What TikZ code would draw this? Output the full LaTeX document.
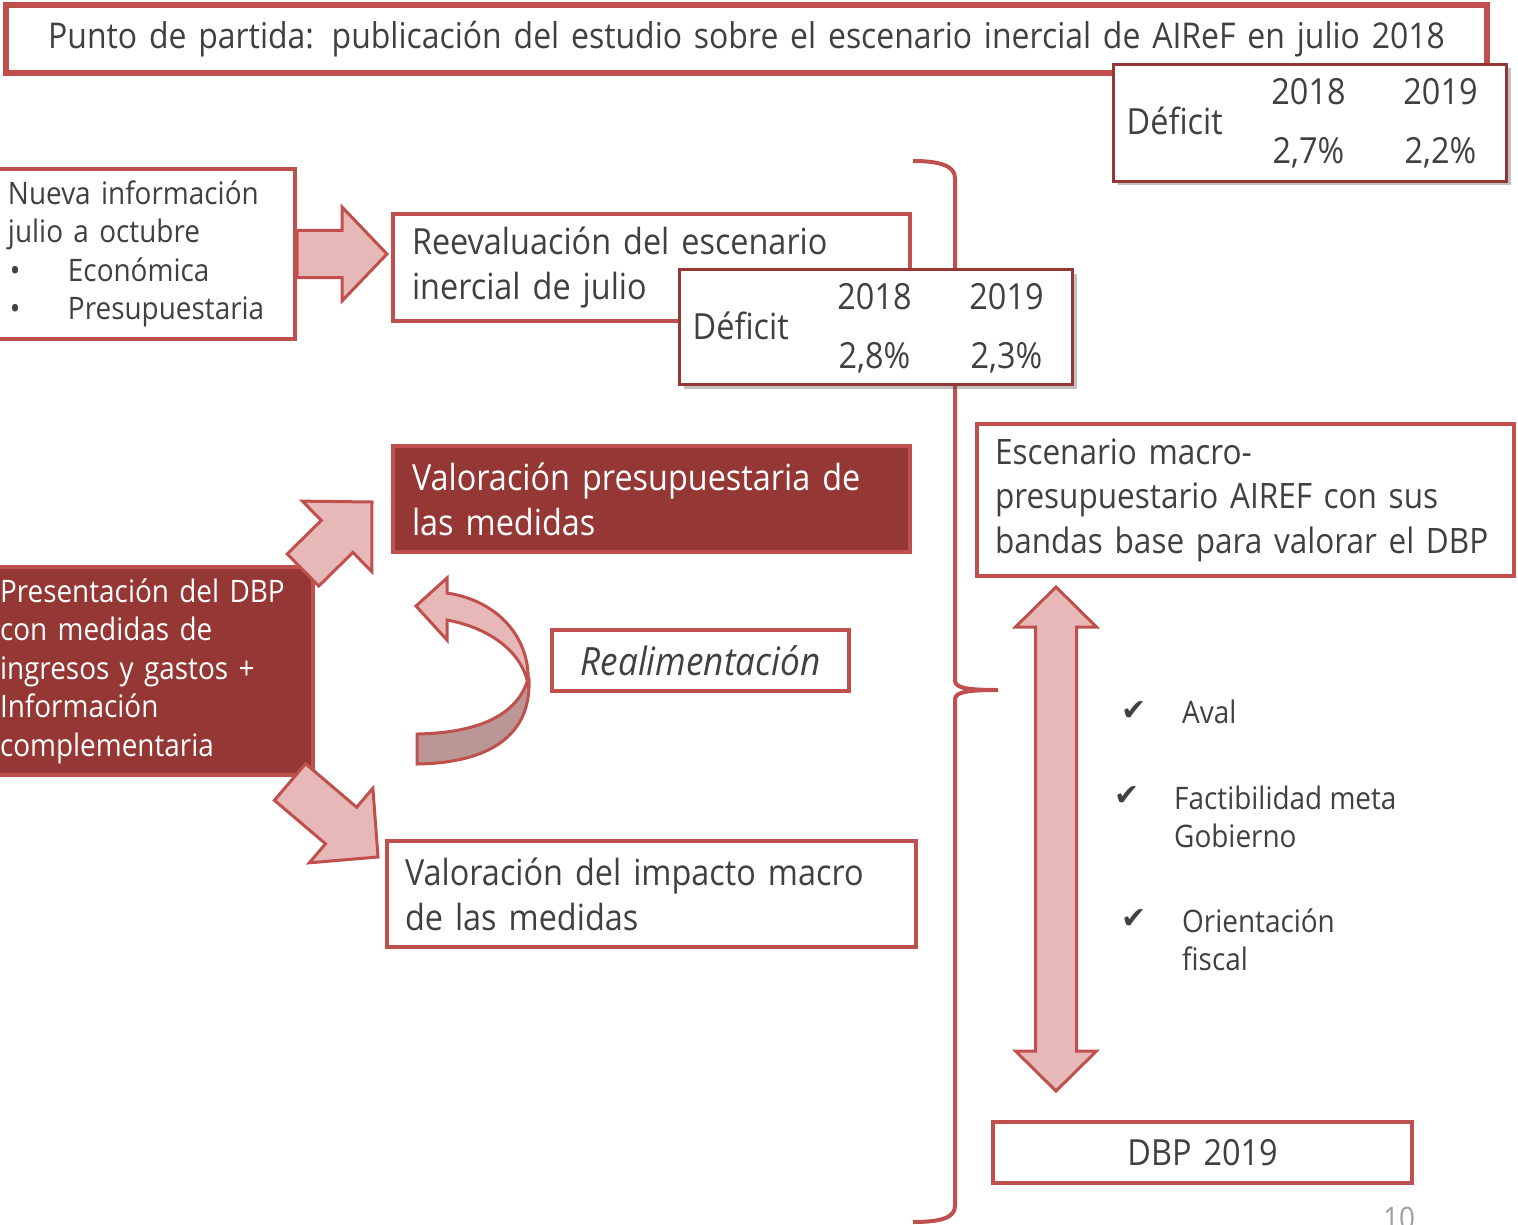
\documentclass[tikz,border=0pt]{standalone}
\usepackage{fontspec}
\setmainfont{Open Sans}[FakeStretch=0.9]
\newfontfamily\checkfont{DejaVu Sans}
\usetikzlibrary{positioning,calc,shadows}
\definecolor{boxred}{RGB}{192,80,77}
\definecolor{darkred}{RGB}{149,55,53}
\definecolor{pinkfill}{RGB}{230,185,184}
\definecolor{pinkdark}{RGB}{186,150,149}
\definecolor{txtgray}{RGB}{64,64,64}
\definecolor{numgray}{RGB}{160,160,160}
\newcommand{\bigsz}{\fontsize{36}{45}\selectfont}
\newcommand{\midsz}{\fontsize{31}{38.5}\selectfont}

% block arrow: tail, tip, half shaft, half head, head length
\newcommand{\blockarrow}[5]{%
  \coordinate (ba-base) at ($(#2)!#5!(#1)$);
  \draw[blockarr] ($(#1)!#3!90:(#2)$) -- ($(ba-base)!#3!-90:(#1)$) -- ($(ba-base)!#4!-90:(#1)$) -- (#2)
    -- ($(ba-base)!#4!90:(#1)$) -- ($(ba-base)!#3!90:(#1)$) -- ($(#1)!#3!-90:(#2)$) -- cycle;
}
% double block arrow: tip a, tip b, half shaft, half head, head length
\newcommand{\dblockarrow}[5]{%
  \coordinate (da-a) at ($(#1)!#5!(#2)$);
  \coordinate (da-b) at ($(#2)!#5!(#1)$);
  \draw[blockarr] (#1) -- ($(da-a)!#4!90:(#2)$) -- ($(da-a)!#3!90:(#2)$) -- ($(da-b)!#3!-90:(#1)$)
    -- ($(da-b)!#4!-90:(#1)$) -- (#2) -- ($(da-b)!#4!90:(#1)$) -- ($(da-b)!#3!90:(#1)$)
    -- ($(da-a)!#3!-90:(#2)$) -- ($(da-a)!#4!-90:(#2)$) -- cycle;
}

\begin{document}
\begin{tikzpicture}[x=1pt, y=-1pt,
    mainbox/.style={draw=boxred, line width=4pt, fill=white, anchor=north west, inner xsep=18pt,
                    inner ysep=0pt, align=left, text=txtgray, font=\bigsz},
    darkbox/.style={mainbox, fill=darkred, text=white},
    tablebox/.style={draw=darkred, line width=3pt, fill=white, anchor=north west, minimum width=393pt,
                     drop shadow={shadow xshift=4pt, shadow yshift=-4pt, opacity=0.35, fill=black!70}},
    cellnum/.style={text=txtgray, font=\bigsz, inner sep=0pt, anchor=base},
    blockarr/.style={draw=boxred, line width=3pt, fill=pinkfill},
    bracketline/.style={draw=boxred, line width=4pt},
    checkmk/.style={text=txtgray, font=\checkfont\fontsize{30}{34}\selectfont, inner sep=0pt},
    checkitem/.style={text=txtgray, font=\midsz, inner sep=0pt, anchor=north west, align=left},
]
\useasboundingbox (0,0) rectangle (1518,1225);

% ============ BRACKET ============
\coordinate (brtop) at (913,161);
\coordinate (brtip) at (998,690);
\coordinate (brbot) at (913,1222);
\draw[bracketline] (brtop) .. controls (940,161) and (955,166) .. (955,178) -- (955,680)
    .. controls (955,687) and (962,690) .. (brtip) .. controls (962,690) and (955,693) .. (955,700)
    -- (955,1206) .. controls (955,1218) and (940,1222) .. (brbot);

% ============ TOP: STARTING POINT ============
\node[mainbox, line width=6pt, minimum width=1481pt, minimum height=68pt, inner xsep=10pt,
      text width=1461pt, align=center, font=\fontsize{35.5}{42}\selectfont] (title) at (3,2)
      {Punto de partida: publicación del estudio sobre el escenario inercial de AIReF en julio 2018};

\node[tablebox, minimum height=117pt] (tab1) at (1112,63) {};
\node[cellnum, anchor=base west] at ($(tab1.north west)+(14.5,72)$) {Déficit};
\node[cellnum] at ($(tab1.north west)+(196.5,41.5)$) {2018};
\node[cellnum] at ($(tab1.north west)+(328.5,41.5)$) {2019};
\node[cellnum] at ($(tab1.north west)+(196.5,100.5)$) {2,7\%};
\node[cellnum] at ($(tab1.north west)+(328.5,100.5)$) {2,2\%};

% ============ LEFT COLUMN ============
\node[mainbox, font=\midsz, minimum width=305pt, minimum height=170pt, inner xsep=18pt,
      text width=269pt] (nueva) at (-12,167)
      {Nueva información\\julio a octubre\\\hspace*{2pt}\makebox[58pt][l]{•}Económica\\\hspace*{2pt}\makebox[58pt][l]{•}Presupuestaria};

\node[darkbox, font=\midsz, minimum width=323pt, minimum height=208pt, inner xsep=10pt,
      text width=303pt] (pres) at (-12,565)
      {Presentación del DBP\\con medidas de\\ingresos y gastos +\\Información\\complementaria};

% ============ MIDDLE COLUMN ============
\node[mainbox, minimum width=517pt, minimum height=107pt, inner xsep=19pt, text width=479pt] (reev) at (391,212)
      {Reevaluación del escenario\\inercial de julio};

\node[tablebox, minimum height=115pt] (tab2) at (678,268) {};
\node[cellnum, anchor=base west] at ($(tab2.north west)+(14.5,71)$) {Déficit};
\node[cellnum] at ($(tab2.north west)+(196.5,41)$) {2018};
\node[cellnum] at ($(tab2.north west)+(328.5,41)$) {2019};
\node[cellnum] at ($(tab2.north west)+(196.5,100)$) {2,8\%};
\node[cellnum] at ($(tab2.north west)+(328.5,100)$) {2,3\%};

\node[darkbox, minimum width=517pt, minimum height=106pt, inner xsep=19pt, text width=479pt] (valp) at (391,444)
      {Valoración presupuestaria de\\las medidas};

\node[mainbox, font=\fontsize{39}{45}\selectfont\itshape, minimum width=297pt, minimum height=61pt,
      inner xsep=8pt, text width=281pt, align=center] (realim) at (550,628) {Realimentación};

\node[mainbox, minimum width=529pt, minimum height=106pt, text width=493pt] (vali) at (385,839)
      {Valoración del impacto macro\\de las medidas};

% ============ RIGHT COLUMN ============
\node[mainbox, font=\fontsize{35}{44.5}\selectfont, minimum width=537pt, minimum height=152pt,
      text width=501pt] (esc) at (975,422)
      {Escenario macro-\\presupuestario AIREF con sus\\bandas base para valorar el DBP};

\node[mainbox, minimum width=419pt, minimum height=61pt, text width=383pt, align=center] (dbp) at (991,1120)
      {DBP 2019};

% checklist
\node[checkmk] (ck1) at (1134,711) {✔};
\node[checkmk] (ck2) at (1127,796) {✔};
\node[checkmk] (ck3) at (1134,919) {✔};
\node[checkitem] (aval) at (1182,696) {\strut Aval};
\node[checkitem] (fact) at (1174,782) {\strut Factibilidad meta\\Gobierno};
\node[checkitem] (orie) at (1182,905) {\strut Orientación\\fiscal};

\node[text=numgray, font=\midsz, inner sep=0pt, anchor=north west] (pagenum) at (1383,1207) {10};

% ============ BLOCK ARROWS ============
\coordinate (a1tail) at (nueva.east);
\coordinate (a1tip) at ($(nueva.east -| reev.west)+(-4,0)$);
\blockarrow{a1tail}{a1tip}{23.5pt}{47pt}{45pt}

\coordinate (a2tail) at ($(pres.north east)+(-12,5)$);
\coordinate (a2tip) at ($(valp.west)+(-19,3)$);
\blockarrow{a2tail}{a2tip}{22.5pt}{49.5pt}{49pt}

\coordinate (a3tail) at ($(pres.south east)+(-25,5)$);
\coordinate (a3tip) at ($(vali.north west)+(-7,18)$);
\blockarrow{a3tail}{a3tip}{24pt}{49pt}{48.5pt}

\coordinate (a4top) at ($(esc.south west)+(81,9)$);
\coordinate (a4bot) at ($(dbp.north west)+(65,-29)$);
\dblockarrow{a4top}{a4bot}{20.5pt}{40.5pt}{40pt}

% ============ FEEDBACK LOOP ============
\draw[blockarr, fill=pinkdark] (527,682) .. controls (515,717) and (475,733) .. (417,734) -- (417,764)
    .. controls (490,763) and (531,735) .. (529,680) -- cycle;
\draw[blockarr] (447,593) -- (447,578) -- (416,606) -- (447,640) -- (447,620)
    .. controls (490,628) and (522,652) .. (528,684) .. controls (531,640) and (500,601) .. (447,593) -- cycle;

\end{tikzpicture}
\end{document}
